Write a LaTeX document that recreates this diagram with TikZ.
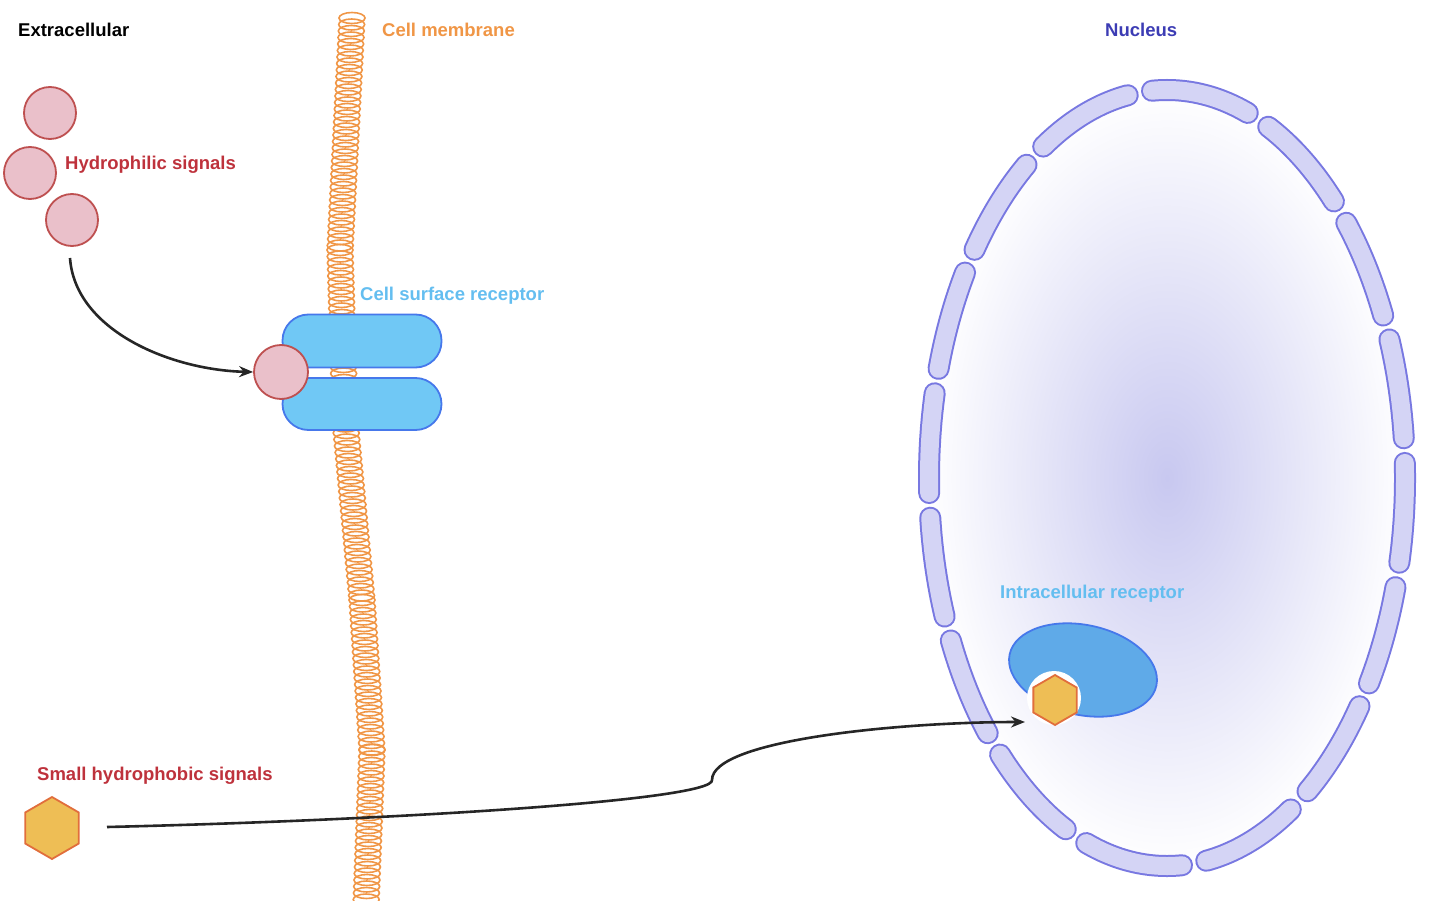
\documentclass[tikz,border=0pt]{standalone}
\usepackage{fontspec}
\setmainfont{Liberation Sans}
\usetikzlibrary{shapes.geometric,arrows.meta}
\definecolor{memb}{RGB}{240,150,70}
\definecolor{pinkf}{RGB}{234,192,202}
\definecolor{pinkd}{RGB}{190,80,80}
\definecolor{recf}{RGB}{112,200,245}
\definecolor{recd}{RGB}{70,120,235}
\definecolor{irec}{RGB}{95,170,232}
\definecolor{hexf}{RGB}{238,190,85}
\definecolor{hexd}{RGB}{225,110,60}
\definecolor{nucf}{RGB}{212,212,245}
\definecolor{nucd}{RGB}{120,120,225}
\definecolor{nucc}{RGB}{200,200,240}
\definecolor{lbl}{RGB}{190,50,60}
\definecolor{nuct}{RGB}{60,60,180}
\definecolor{rect}{RGB}{100,190,240}
\begin{document}
\begin{tikzpicture}[x=1pt,y=-1pt,
  lab/.style={font=\bfseries\fontsize{18.5}{20}\selectfont,anchor=west,inner sep=0},
  sig/.style={circle,draw=pinkd,fill=pinkf,line width=1.8pt,minimum size=52pt,inner sep=0},
  hexs/.style={regular polygon,regular polygon sides=6,shape border rotate=90,draw=hexd,fill=hexf,line width=1.8pt,inner sep=0},
  arr/.style={-{Stealth[length=14pt,width=11pt]},line width=2.6pt,black!85}]
\useasboundingbox (0,0) rectangle (1440,901);
% nucleus interior
\shade[inner color=nucc,outer color=white] (1167,478) ellipse [x radius=240,y radius=390];
% nucleus envelope
\draw[nucd,line width=22pt,line cap=round,dash pattern=on 100pt off 24.7pt,dash phase=15pt] (1167,478) ellipse [x radius=238,y radius=388];
\draw[nucf,line width=18pt,line cap=round,dash pattern=on 100pt off 24.7pt,dash phase=15pt] (1167,478) ellipse [x radius=238,y radius=388];
% membrane
\foreach \ya/\xa/\yb/\xb in {18/352/250/340, 250/340/420/345, 420/345/600/362, 600/362/750/372, 750/372/905/366}{
  \pgfmathsetmacro{\n}{int((\yb-\ya)/6.5)}
  \foreach \i in {0,...,\n}{
    \pgfmathsetmacro{\yy}{\ya+\i*6.5}
    \pgfmathsetmacro{\xx}{\xa+(\xb-\xa)*(\yy-\ya)/(\yb-\ya)}
    \draw[memb,line width=1.6pt] (\xx,\yy) ellipse [x radius=13,y radius=5.5];
  }
}
% receptor
\node[draw=recd,fill=recf,line width=1.8pt,rounded corners=26pt,minimum width=159pt,minimum height=53pt,inner sep=0] (r1) at (362,341) {};
\node[draw=recd,fill=recf,line width=1.8pt,rounded corners=26pt,minimum width=159pt,minimum height=52pt,inner sep=0] (r2) at (362,404) {};
\node[sig,minimum size=54pt] (b) at (281,372) {};
% hydrophilic signals
\node[sig] (s1) at (50,113) {};
\node[sig] (s2) at (30,173) {};
\node[sig] (s3) at (72,220) {};
% intracellular receptor
\node[ellipse,draw=recd,fill=irec,line width=1.8pt,minimum width=150pt,minimum height=90pt,rotate=-12,inner sep=0] (ir) at (1083,670) {};
\fill[white] (1054,698) circle (27);
\node[hexs,minimum size=50pt] (h2) at (1055,700) {};
\node[hexs,minimum size=62pt] (h1) at (52,828) {};
% arrows
\coordinate (a1) at (70,258);
\coordinate (a2) at (107,827);
\draw[arr] (a1) .. controls (75,330) and (170,370) .. (b.west);
\draw[arr] (a2) .. controls (400,820) and (715,800) .. (712,780) .. controls (712,740) and (900,722) .. (1025,722);
% labels
\node[lab] at (18,30) {Extracellular};
\node[lab,text=memb] at (382,30) {Cell membrane};
\node[lab,text=nuct] at (1105,30) {Nucleus};
\node[lab,text=lbl] at (65,165) {Hydrophilic signals};
\node[lab,text=rect] at (360,296) {Cell surface receptor};
\node[lab,text=rect] at (1000,594) {Intracellular receptor};
\node[lab,text=lbl] at (37,776) {Small hydrophobic signals};
\end{tikzpicture}
\end{document}
